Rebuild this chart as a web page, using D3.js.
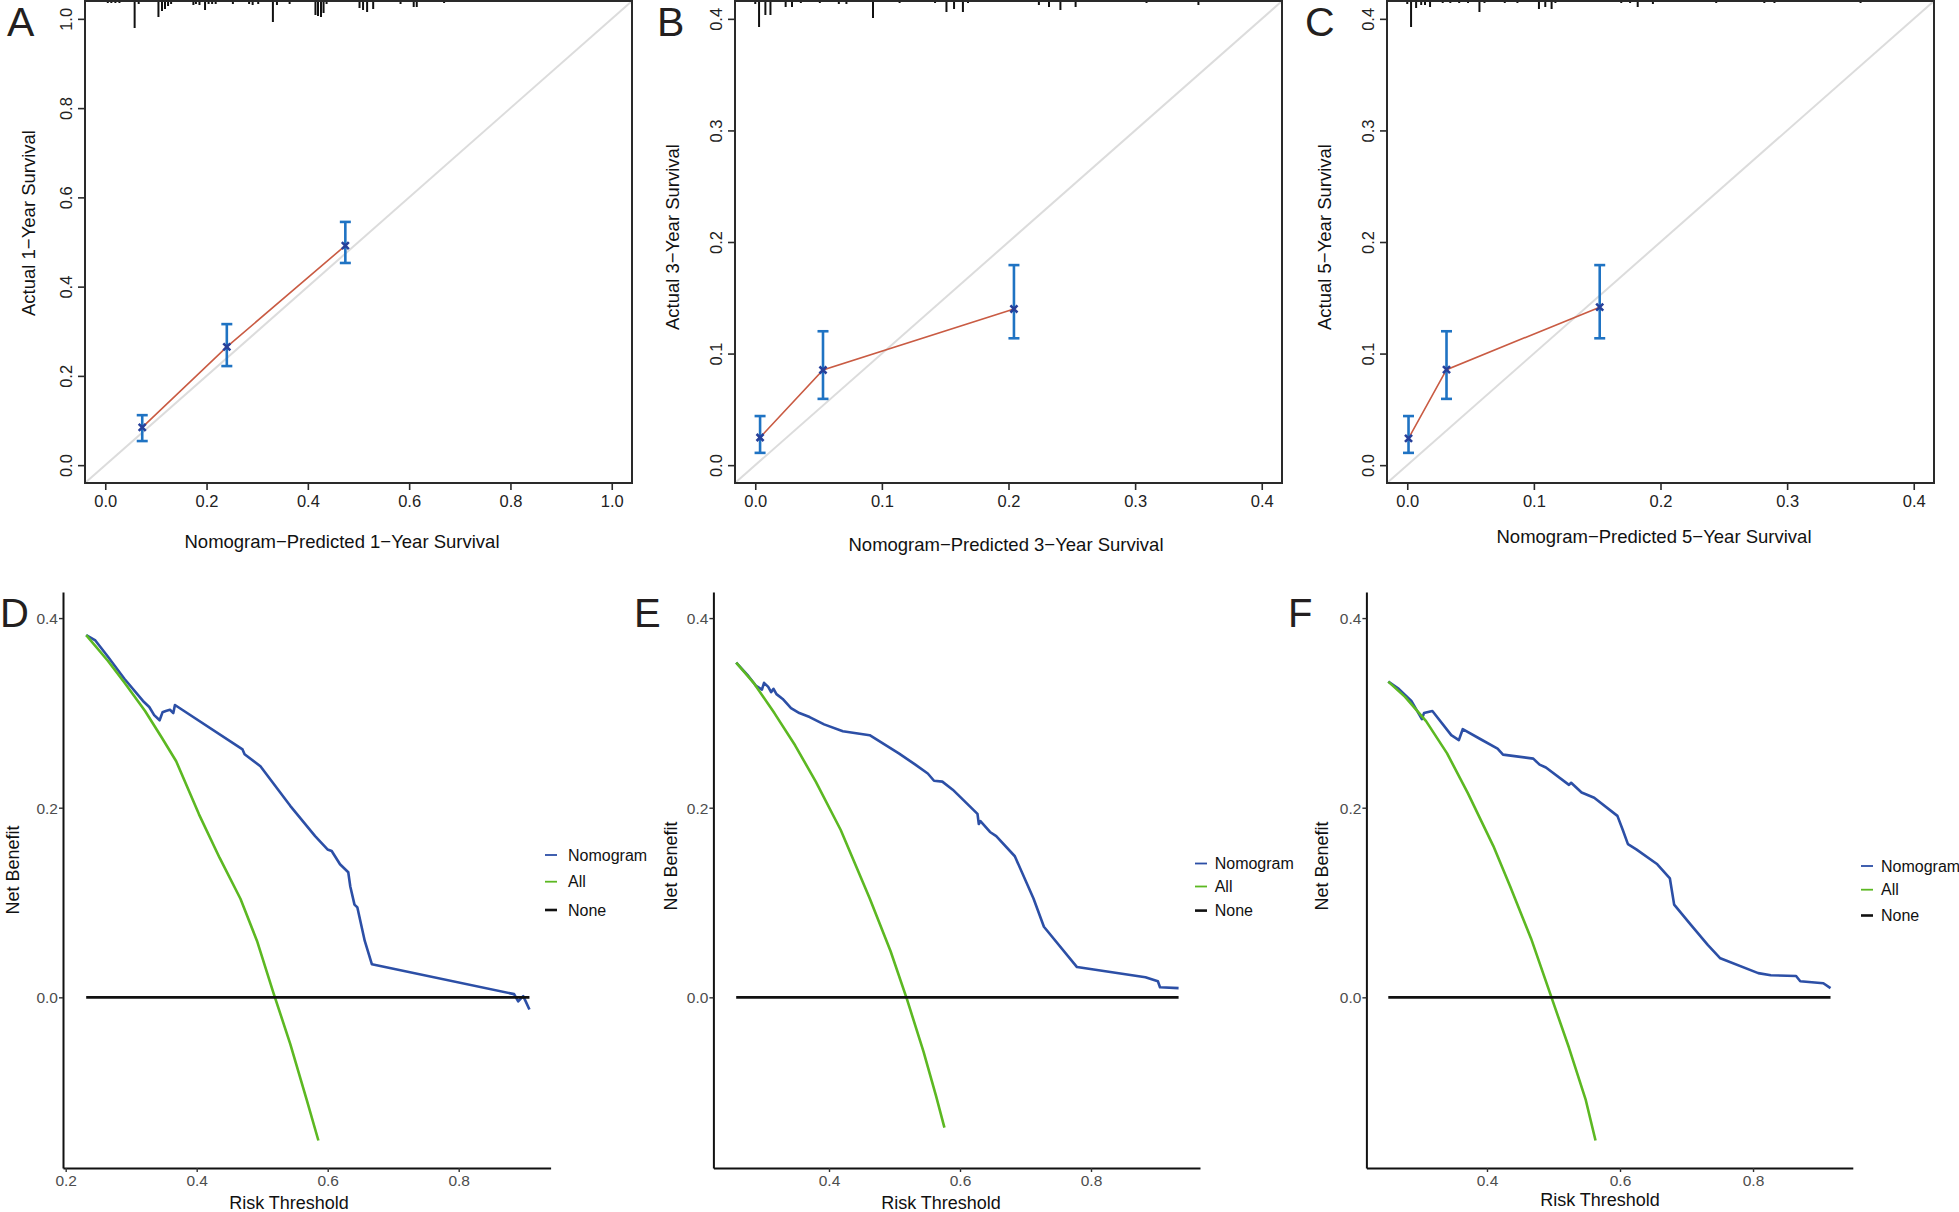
<!DOCTYPE html>
<html lang="en">
  <head>
    <meta charset="utf-8">
    <title>Calibration and decision curves</title>
    <script src="https://cdn.jsdelivr.net/npm/d3@7"></script>
    <style>
      body { margin: 0; background: white; }
      text { font-family: "Liberation Sans", Arial, sans-serif; }
    </style>
  </head>
  <body>
    <script>
      // calibration points: predicted, observed, CI low, CI high
      var cal1Pred = [0.073, 0.240, 0.474];
      var cal1Obs  = [0.0845, 0.265, 0.492];
      var cal1Lo   = [0.054, 0.222, 0.453];
      var cal1Hi   = [0.112, 0.316, 0.545];

      var cal3Pred = [0.0038, 0.0535, 0.2043];
      var cal3Obs  = [0.0248, 0.0853, 0.140];
      var cal3Lo   = [0.011, 0.0594, 0.1137];
      var cal3Hi   = [0.044, 0.120, 0.1793];

      var cal5Pred = [0.001, 0.031, 0.152];
      var cal5Obs  = [0.024, 0.0856, 0.1416];
      var cal5Lo   = [0.011, 0.0594, 0.1137];
      var cal5Hi   = [0.044, 0.120, 0.1793];

      // rug of predicted risk: [value, frequency]
      var rug1 = [[0.005,2],[0.012,2],[0.02,2],[0.028,2],[0.058,27],[0.066,3],[0.105,16],[0.112,10],[0.118,8],[0.124,5],[0.13,3],
                  [0.174,4],[0.179,3],[0.186,4],[0.197,9],[0.204,3],[0.211,3],[0.218,3],[0.252,3],[0.284,3],[0.291,4],[0.302,3],
                  [0.331,21],[0.339,4],[0.364,3],[0.415,14],[0.42,15],[0.426,16],[0.431,12],[0.437,3],[0.502,7],[0.509,9],
                  [0.517,11],[0.529,8],[0.583,3],[0.609,6],[0.615,6],[0.669,2]];
      var rug3 = [[0.000,3],[0.003,26],[0.008,14],[0.012,14],[0.024,6],[0.029,6],[0.036,2],[0.051,2],[0.066,3],[0.072,3],
                  [0.093,17],[0.114,2],[0.142,2],[0.151,11],[0.157,8],[0.164,11],[0.168,2],[0.224,4],[0.232,6],[0.241,9],
                  [0.253,6],[0.309,2],[0.350,4]];
      var rug5 = [[0.000,3],[0.003,26],[0.007,7],[0.011,4],[0.014,4],[0.018,6],[0.028,2],[0.034,2],[0.041,2],[0.048,2],
                  [0.057,11],[0.061,2],[0.077,2],[0.087,2],[0.104,8],[0.109,6],[0.114,8],[0.117,2],[0.169,2],[0.176,2],
                  [0.182,6],[0.194,3],[0.244,2],[0.282,2],[0.290,2],[0.358,2]];

      var ticks1 = [0, 0.2, 0.4, 0.6, 0.8, 1.0];
      var ticks35 = [0, 0.1, 0.2, 0.3, 0.4];

      // decision curves: [threshold, net benefit]
      var dcaNomoD = [[0.2313,0.382],[0.2453,0.3764],[0.2643,0.3594],[0.2896,0.336],[0.318,0.3126],[0.3276,0.3062],[0.3351,0.2977],
                      [0.3434,0.2922],[0.3478,0.3006],[0.3528,0.302],[0.3592,0.3033],[0.3643,0.2998],[0.3668,0.3083],[0.470,0.2615],
                      [0.4731,0.2564],[0.4973,0.2437],[0.5428,0.202],[0.5808,0.170],[0.5997,0.156],[0.6061,0.1543],[0.6188,0.1403],
                      [0.6314,0.1319],[0.6345,0.1169],[0.6409,0.0978],[0.6453,0.0948],[0.6566,0.0595],[0.6675,0.0348],
                      [0.8846,0.0034],[0.8908,-0.0043],[0.8985,0.0013],[0.9023,-0.0043],[0.908,-0.0128]];
      var dcaAllD  = [[0.2313,0.382],[0.2643,0.355],[0.2896,0.332],[0.3212,0.302],[0.3466,0.274],[0.3687,0.249],[0.4035,0.193],
                      [0.4351,0.147],[0.4668,0.104],[0.4921,0.0595],[0.5174,0.0042],[0.5428,-0.049],[0.5681,-0.1085],[0.5858,-0.151]];
      var dcaNoneD = [[0.2313,0],[0.908,0]];

      var dcaNomoE = [[0.2583,0.353],[0.2754,0.3402],[0.2881,0.3288],[0.2976,0.3245],[0.3008,0.3317],[0.3072,0.3274],[0.3116,0.3219],
                      [0.3153,0.3253],[0.3198,0.3198],[0.3293,0.3147],[0.342,0.305],[0.3547,0.2998],[0.3704,0.2956],[0.3925,0.2879],
                      [0.4211,0.2807],[0.4621,0.2765],[0.5066,0.2573],[0.5318,0.2454],[0.5508,0.2361],[0.5603,0.2284],[0.573,0.2275],
                      [0.5889,0.219],[0.6267,0.1935],[0.6287,0.1828],[0.6312,0.1858],[0.6458,0.1744],[0.6553,0.1701],[0.6837,0.1488],
                      [0.7122,0.1042],[0.7281,0.0744],[0.7786,0.0319],[0.8831,0.0212],[0.9021,0.017],[0.9053,0.0106],[0.9337,0.0097]];
      var dcaAllE  = [[0.2583,0.353],[0.2849,0.3317],[0.3166,0.2998],[0.3482,0.2658],[0.3798,0.2275],[0.4179,0.1765],[0.4622,0.1042],
                      [0.4939,0.0489],[0.5191,-0.0022],[0.5444,-0.0575],[0.5635,-0.1042],[0.5762,-0.1374]];
      var dcaNoneE = [[0.2583,0],[0.9337,0]];

      var dcaNomoF = [[0.2516,0.333],[0.2674,0.3253],[0.2863,0.3126],[0.3021,0.2935],[0.3053,0.2998],[0.3179,0.302],[0.3463,0.2765],
                      [0.3577,0.2713],[0.3635,0.2828],[0.3905,0.2722],[0.4159,0.2624],[0.4241,0.256],[0.4696,0.2518],[0.4791,0.2454],
                      [0.4886,0.2424],[0.5233,0.2241],[0.5265,0.2263],[0.5423,0.216],[0.5612,0.2105],[0.5961,0.1914],[0.6042,0.1765],
                      [0.6119,0.1616],[0.6245,0.156],[0.6561,0.1403],[0.675,0.1254],[0.6814,0.0978],[0.7066,0.0765],[0.7319,0.0553],
                      [0.7508,0.0412],[0.8078,0.0255],[0.8268,0.0233],[0.8647,0.0225],[0.871,0.017],[0.9057,0.0149],[0.9165,0.0097]];
      var dcaAllF  = [[0.2516,0.333],[0.2768,0.3169],[0.3084,0.2913],[0.34,0.2573],[0.3716,0.2148],[0.4096,0.1595],[0.4349,0.1169],
                      [0.4665,0.0616],[0.498,-0.0022],[0.5233,-0.0532],[0.5486,-0.1085],[0.5632,-0.151]];
      var dcaNoneF = [[0.2516,0],[0.9165,0]];

      var dcaYTicks = [0, 0.2, 0.4];
      var dcaXTicksD = [0.2, 0.4, 0.6, 0.8];
      var dcaXTicksEF = [0.4, 0.6, 0.8];
      var legendNames = ["Nomogram", "All", "None"];
      var legendColors = ["#2c4fa6", "#5cb822", "#111111"];

      var svg = d3.select("body")
                  .append("svg")
                  .attr("width", 1959)
                  .attr("height", 1212);
      svg.append("rect").attr("width", 1959).attr("height", 1212).attr("fill", "white");

      var fmt = d3.format(".1f");

      function calibPanel(o) {
        var x = d3.scaleLinear().domain(o.dom).range([o.x0, o.x1]);
        var y = d3.scaleLinear().domain(o.dom).range([o.y1, o.y0]);
        var g = svg.append("g");

        // ideal line
        g.append("line")
         .attr("x1", x(o.dom[0])).attr("y1", y(o.dom[0]))
         .attr("x2", x(o.dom[1])).attr("y2", y(o.dom[1]))
         .attr("stroke", "#dcdcdc").attr("stroke-width", 2);

        // rug of predictions
        var len = d3.scaleLinear().domain([0, 27]).range([0, 27]);
        g.selectAll(".rug").data(o.rug).enter().append("line")
         .attr("x1", d => x(d[0])).attr("x2", d => x(d[0]))
         .attr("y1", o.y0).attr("y2", d => o.y0 + len(d[1]))
         .attr("stroke", "#111").attr("stroke-width", 2);

        var pts = o.pred.map((p, i) => ({p: p, obs: o.obs[i], lo: o.lo[i], hi: o.hi[i]}));

        g.append("path")
         .datum(pts)
         .attr("fill", "none")
         .attr("stroke", "#c95b43")
         .attr("stroke-width", 1.6)
         .attr("d", d3.line().x(d => x(d.p)).y(d => y(d.obs)));

        var bars = g.selectAll(".err").data(pts).enter().append("g")
                    .attr("stroke", "#1f73c3").attr("stroke-width", 2.6);
        bars.append("line").attr("x1", d => x(d.p)).attr("x2", d => x(d.p))
            .attr("y1", d => y(d.lo)).attr("y2", d => y(d.hi));
        bars.append("line").attr("x1", d => x(d.p) - 5.5).attr("x2", d => x(d.p) + 5.5)
            .attr("y1", d => y(d.lo)).attr("y2", d => y(d.lo));
        bars.append("line").attr("x1", d => x(d.p) - 5.5).attr("x2", d => x(d.p) + 5.5)
            .attr("y1", d => y(d.hi)).attr("y2", d => y(d.hi));

        g.selectAll(".mark").data(pts).enter().append("path")
         .attr("transform", d => "translate(" + x(d.p) + "," + y(d.obs) + ")")
         .attr("d", d3.symbol(d3.symbolX, 34)())
         .attr("fill", "none").attr("stroke", "#27409a").attr("stroke-width", 2.6);

        // box
        g.append("rect")
         .attr("x", o.x0).attr("y", o.y0)
         .attr("width", o.x1 - o.x0).attr("height", o.y1 - o.y0)
         .attr("fill", "none").attr("stroke", "#2a2a2a").attr("stroke-width", 2);

        var xa = g.append("g")
                  .attr("transform", "translate(0," + o.y1 + ")")
                  .call(d3.axisBottom(x).tickValues(o.ticks).tickSize(7).tickFormat(fmt));
        xa.select(".domain").remove();
        xa.selectAll("line").attr("stroke", "#2a2a2a").attr("stroke-width", 1.6);
        xa.selectAll("text").attr("y", 24).attr("dy", 0)
          .attr("font-size", 16.5).attr("fill", "#222").style("font-family", "Liberation Sans, Arial");

        var ya = g.append("g")
                  .attr("transform", "translate(" + o.x0 + ",0)")
                  .call(d3.axisLeft(y).tickValues(o.ticks).tickSize(7).tickFormat(fmt));
        ya.select(".domain").remove();
        ya.selectAll("line").attr("stroke", "#2a2a2a").attr("stroke-width", 1.6);
        ya.selectAll("text").attr("x", 0).attr("dy", 0)
          .attr("text-anchor", "middle")
          .attr("transform", "translate(-13,0) rotate(-90)")
          .attr("font-size", 16.5).attr("fill", "#222").style("font-family", "Liberation Sans, Arial");

        g.append("text").attr("x", o.xlab[0]).attr("y", o.xlab[1])
         .attr("text-anchor", "middle").attr("font-size", 18.5).attr("fill", "#111")
         .text(o.xtitle);
        g.append("text")
         .attr("transform", "translate(" + o.ylab[0] + "," + o.ylab[1] + ") rotate(-90)")
         .attr("text-anchor", "middle").attr("font-size", 18.5).attr("fill", "#111")
         .text(o.ytitle);
        g.append("text").attr("x", o.letter[0]).attr("y", o.letter[1])
         .attr("font-size", 41).attr("fill", "#231f20").text(o.tag);
      }

      function dcaPanel(o) {
        var x = d3.scaleLinear().domain(o.xdom).range([o.xl, o.xr]);
        var y = d3.scaleLinear().domain([-0.18, 0.4275]).range([1168, 592]);
        var g = svg.append("g");
        var line = d3.line().x(d => x(d[0])).y(d => y(d[1]));

        var series = [o.nomo, o.all, o.none];
        series.forEach((s, i) => {
          g.append("path").datum(s)
           .attr("fill", "none")
           .attr("stroke", legendColors[i])
           .attr("stroke-width", 2.6)
           .attr("stroke-linejoin", "round")
           .attr("d", line);
        });

        var xa = g.append("g")
                  .attr("transform", "translate(0,1168)")
                  .call(d3.axisBottom(x).tickValues(o.xticks).tickSize(4).tickSizeOuter(0).tickFormat(fmt));
        xa.select(".domain").attr("stroke", "#111").attr("stroke-width", 2);
        xa.selectAll(".tick line").attr("stroke", "#333").attr("stroke-width", 1.4);
        xa.selectAll("text").attr("y", 18).attr("dy", 0)
          .attr("font-size", 15.5).attr("fill", "#4d4d4d").style("font-family", "Liberation Sans, Arial");

        var ya = g.append("g")
                  .attr("transform", "translate(" + o.xl + ",0)")
                  .call(d3.axisLeft(y).tickValues(dcaYTicks).tickSize(4).tickSizeOuter(0).tickFormat(fmt));
        ya.select(".domain").attr("stroke", "#111").attr("stroke-width", 2);
        ya.selectAll(".tick line").attr("stroke", "#333").attr("stroke-width", 1.4);
        ya.selectAll("text").attr("x", -5).attr("dy", "0.35em")
          .attr("font-size", 15.5).attr("fill", "#4d4d4d").style("font-family", "Liberation Sans, Arial");

        g.append("text").attr("x", o.xlab[0]).attr("y", o.xlab[1])
         .attr("text-anchor", "middle").attr("font-size", 18).attr("fill", "#111")
         .text("Risk Threshold");
        g.append("text")
         .attr("transform", "translate(" + o.ylab[0] + "," + o.ylab[1] + ") rotate(-90)")
         .attr("text-anchor", "middle").attr("font-size", 18).attr("fill", "#111")
         .text("Net Benefit");

        var lg = g.selectAll(".leg").data(legendNames).enter().append("g")
                  .attr("transform", (d, i) => "translate(" + o.leg[0] + "," + o.leg[2][i] + ")");
        lg.append("line").attr("x1", 0).attr("x2", 12).attr("y1", 0).attr("y2", 0)
          .attr("stroke", (d, i) => legendColors[i]).attr("stroke-width", (d, i) => i == 2 ? 2.6 : 1.8);
        lg.append("text").attr("x", o.leg[1] - o.leg[0]).attr("dy", "0.35em")
          .attr("font-size", 16).attr("fill", "#111").text(d => d);

        g.append("text").attr("x", o.letter[0]).attr("y", o.letter[1])
         .attr("font-size", 40).attr("fill", "#231f20").text(o.tag);
      }

      calibPanel({tag: "A", letter: [7, 36], x0: 85, x1: 632, y0: 1, y1: 483, dom: [-0.04, 1.04], ticks: ticks1,
                  pred: cal1Pred, obs: cal1Obs, lo: cal1Lo, hi: cal1Hi, rug: rug1,
                  xtitle: "Nomogram\u2212Predicted 1\u2212Year Survival", xlab: [342, 548],
                  ytitle: "Actual 1\u2212Year Survival", ylab: [35, 223]});
      calibPanel({tag: "B", letter: [657, 36], x0: 735, x1: 1282, y0: 1, y1: 483, dom: [-0.016, 0.416], ticks: ticks35,
                  pred: cal3Pred, obs: cal3Obs, lo: cal3Lo, hi: cal3Hi, rug: rug3,
                  xtitle: "Nomogram\u2212Predicted 3\u2212Year Survival", xlab: [1006, 551],
                  ytitle: "Actual 3\u2212Year Survival", ylab: [679, 237]});
      calibPanel({tag: "C", letter: [1305, 36], x0: 1387, x1: 1934, y0: 1, y1: 483, dom: [-0.016, 0.416], ticks: ticks35,
                  pred: cal5Pred, obs: cal5Obs, lo: cal5Lo, hi: cal5Hi, rug: rug5,
                  xtitle: "Nomogram\u2212Predicted 5\u2212Year Survival", xlab: [1654, 543],
                  ytitle: "Actual 5\u2212Year Survival", ylab: [1331, 237]});

      dcaPanel({tag: "D", letter: [0, 627], xl: 63, xr: 550.6, xdom: [0.1959, 0.9403], xticks: dcaXTicksD,
                nomo: dcaNomoD, all: dcaAllD, none: dcaNoneD, xlab: [289, 1209], ylab: [19, 870],
                leg: [545, 568, [855, 881.7, 910]]});
      dcaPanel({tag: "E", letter: [634, 627], xl: 713.4, xr: 1200, xdom: [0.2235, 0.9664], xticks: dcaXTicksEF,
                nomo: dcaNomoE, all: dcaAllE, none: dcaNoneE, xlab: [941, 1209], ylab: [677, 866],
                leg: [1195, 1214.7, [863.5, 886.5, 910.6]]});
      dcaPanel({tag: "F", letter: [1288, 627], xl: 1366.4, xr: 1852.8, xdom: [0.2187, 0.950], xticks: dcaXTicksEF,
                nomo: dcaNomoF, all: dcaAllF, none: dcaNoneF, xlab: [1600, 1206], ylab: [1328, 866],
                leg: [1861, 1881, [866, 889.7, 915.5]]});
    </script>
  </body>
</html>
